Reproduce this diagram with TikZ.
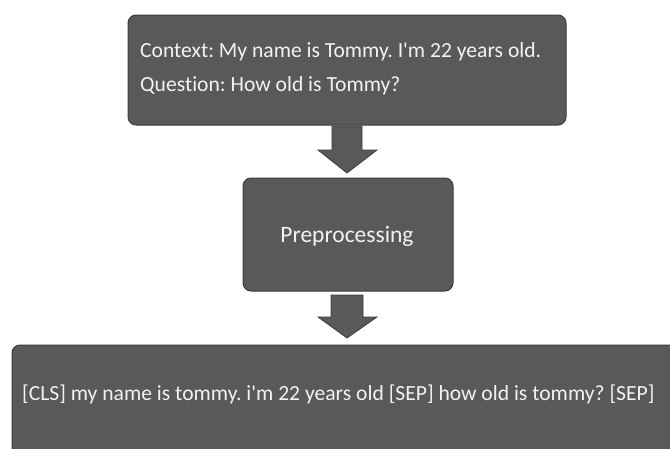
\documentclass[tikz,border=0pt]{standalone}
\usepackage{fontspec}
\setmainfont{Carlito}[Ligatures={NoCommon}]
\frenchspacing
\usetikzlibrary{positioning}
\definecolor{boxfill}{HTML}{595959}
\definecolor{boxline}{HTML}{3C3C3C}
\definecolor{boxtext}{HTML}{F2F2F2}
\tikzset{
  procbox/.style={draw=boxline, fill=boxfill, line width=1pt, rounded corners=8pt},
  boxlabel/.style={text=boxtext, font=\fontsize{21.6}{25}\selectfont, inner sep=0pt},
  blockarrow/.style={draw=boxline, fill=boxfill, line width=0.8pt, line join=miter}
}
\begin{document}
\begin{tikzpicture}[x=1pt,y=-1pt]
  \useasboundingbox (0,0) rectangle (670,448);
  \clip (0,0) rectangle (670,448);
  % boxes
  \draw[procbox] (128,15) rectangle (566,125);
  \node[boxlabel, anchor=west] (ctx) at (140,52) {Context: My name is Tommy. I\textquotesingle m 22 years old.};
  \node[boxlabel, anchor=west] (qst) at (140,86) {Question: How old is Tommy?};
  \draw[procbox] (243,178) rectangle (453,291);
  \node[boxlabel, font=\fontsize{23.5}{27}\selectfont] (pre) at (347,236) {Preprocessing};
  \draw[procbox] (12,345) rectangle (690,470);
  \node[boxlabel, anchor=west] (out) at (22,394) {[CLS] my name is tommy. i\textquotesingle m 22 years old [SEP] how old is tommy? [SEP]};
  % block arrows between stages
  \draw[blockarrow] (332,126) -- (362,126) -- (362,150) -- (377,150) -- (347,173) -- (318,150) -- (332,150) -- cycle;
  \draw[blockarrow] (331,295) -- (363,295) -- (363,317) -- (377,317) -- (347,338) -- (318,317) -- (331,317) -- cycle;
\end{tikzpicture}
\end{document}
